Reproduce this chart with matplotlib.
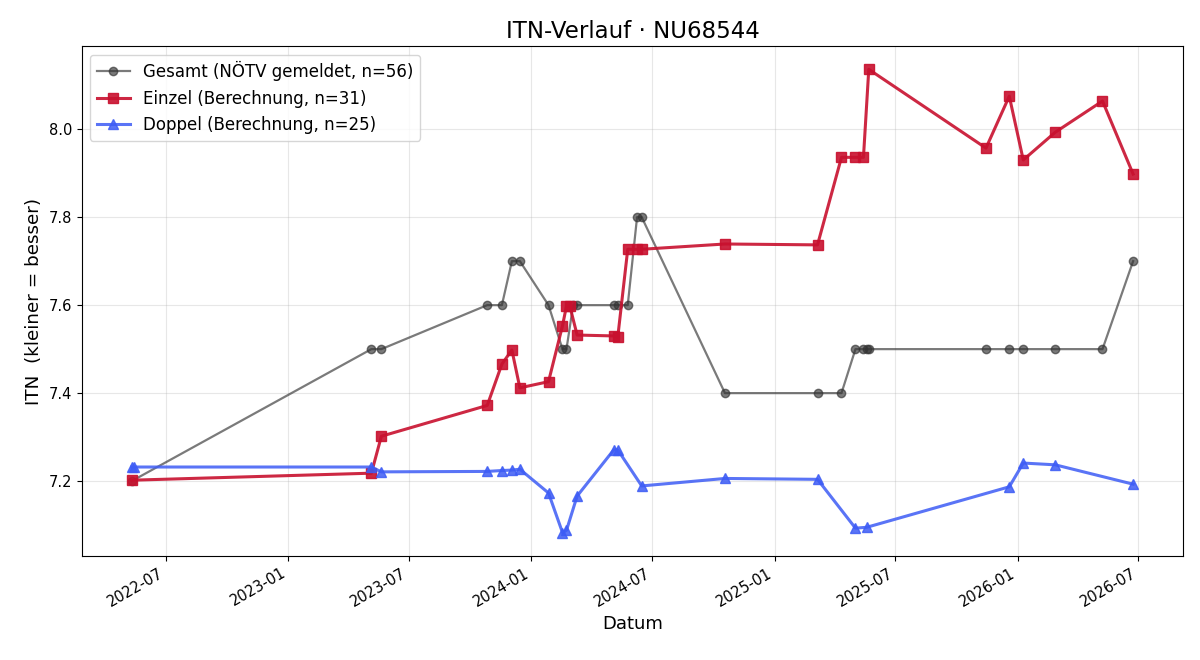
import matplotlib
matplotlib.use("Agg")
import matplotlib.pyplot as plt
import matplotlib.dates as mdates
import pandas as pd

# Gesamt (NÖTV gemeldet)
gesamt_dates = ["2022-05-11", "2023-05-06", "2023-05-21", "2023-10-27", "2023-11-18",
                "2023-12-03", "2023-12-15", "2024-01-27", "2024-02-17", "2024-02-23",
                "2024-03-04", "2024-03-10", "2024-05-04", "2024-05-10", "2024-05-25",
                "2024-06-08", "2024-06-15", "2024-10-18", "2025-03-06", "2025-04-11",
                "2025-05-02", "2025-05-13", "2025-05-19", "2025-05-23", "2025-11-14",
                "2025-12-19", "2026-01-09", "2026-02-26", "2026-05-08", "2026-06-23"]
gesamt_itn = [7.2, 7.5, 7.5, 7.6, 7.6,
              7.7, 7.7, 7.6, 7.5, 7.5,
              7.6, 7.6, 7.6, 7.6, 7.6,
              7.8, 7.8, 7.4, 7.4, 7.4,
              7.5, 7.5, 7.5, 7.5, 7.5,
              7.5, 7.5, 7.5, 7.5, 7.7]

# Einzel (Berechnung)
einzel_dates = ["2022-05-11", "2023-05-06", "2023-05-21", "2023-10-27", "2023-11-18",
                "2023-12-03", "2023-12-15", "2024-01-27", "2024-02-17", "2024-02-23",
                "2024-02-28", "2024-03-10", "2024-05-04", "2024-05-10", "2024-05-25",
                "2024-06-08", "2024-06-15", "2024-10-18", "2025-03-06", "2025-04-11",
                "2025-05-02", "2025-05-14", "2025-05-22", "2025-11-14", "2025-12-19",
                "2026-01-09", "2026-02-26", "2026-05-08", "2026-06-23"]
einzel_itn = [7.202, 7.218, 7.302, 7.372, 7.466,
              7.498, 7.412, 7.426, 7.553, 7.598,
              7.598, 7.532, 7.530, 7.527, 7.727,
              7.727, 7.727, 7.739, 7.737, 7.936,
              7.936, 7.936, 8.136, 7.957, 8.075,
              7.930, 7.993, 8.064, 7.898]

# Doppel (Berechnung)
doppel_dates = ["2022-05-11", "2022-05-14", "2023-05-06", "2023-05-21", "2023-10-27",
                "2023-11-18", "2023-12-03", "2023-12-15", "2024-01-27", "2024-02-17",
                "2024-02-23", "2024-03-10", "2024-05-04", "2024-05-10", "2024-06-15",
                "2024-10-18", "2025-03-06", "2025-05-02", "2025-05-19", "2025-12-19",
                "2026-01-09", "2026-02-26", "2026-06-23"]
doppel_itn = [7.232, 7.232, 7.232, 7.221, 7.222,
              7.224, 7.225, 7.227, 7.173, 7.083,
              7.088, 7.166, 7.271, 7.271, 7.189,
              7.206, 7.204, 7.093, 7.095, 7.187,
              7.241, 7.237, 7.193]

fig, ax = plt.subplots(figsize=(12, 6.6), dpi=100)

ax.plot(pd.to_datetime(gesamt_dates), gesamt_itn, color="#333333", alpha=0.65,
        marker="o", markersize=6, linewidth=1.6, label="Gesamt (NÖTV gemeldet, n=56)")
ax.plot(pd.to_datetime(einzel_dates), einzel_itn, color="#c8102e", alpha=0.9,
        marker="s", markersize=7, linewidth=2.2, label="Einzel (Berechnung, n=31)")
ax.plot(pd.to_datetime(doppel_dates), doppel_itn, color="#3d5cf5", alpha=0.85,
        marker="^", markersize=7, linewidth=2.2, label="Doppel (Berechnung, n=25)")

ax.set_title("ITN-Verlauf · NU68544", fontsize=16.5)
ax.set_xlabel("Datum", fontsize=13)
ax.set_ylabel("ITN  (kleiner = besser)", fontsize=13.2)
ax.grid(True, alpha=0.3)
ax.legend(loc="upper left", fontsize=12)

ax.xaxis.set_major_locator(mdates.MonthLocator(bymonth=[1, 7]))
ax.xaxis.set_major_formatter(mdates.DateFormatter("%Y-%m"))
ax.tick_params(labelsize=10.5)
fig.autofmt_xdate()

plt.subplots_adjust(left=0.068, right=0.986, top=0.930, bottom=0.158)
plt.savefig("out.png")
